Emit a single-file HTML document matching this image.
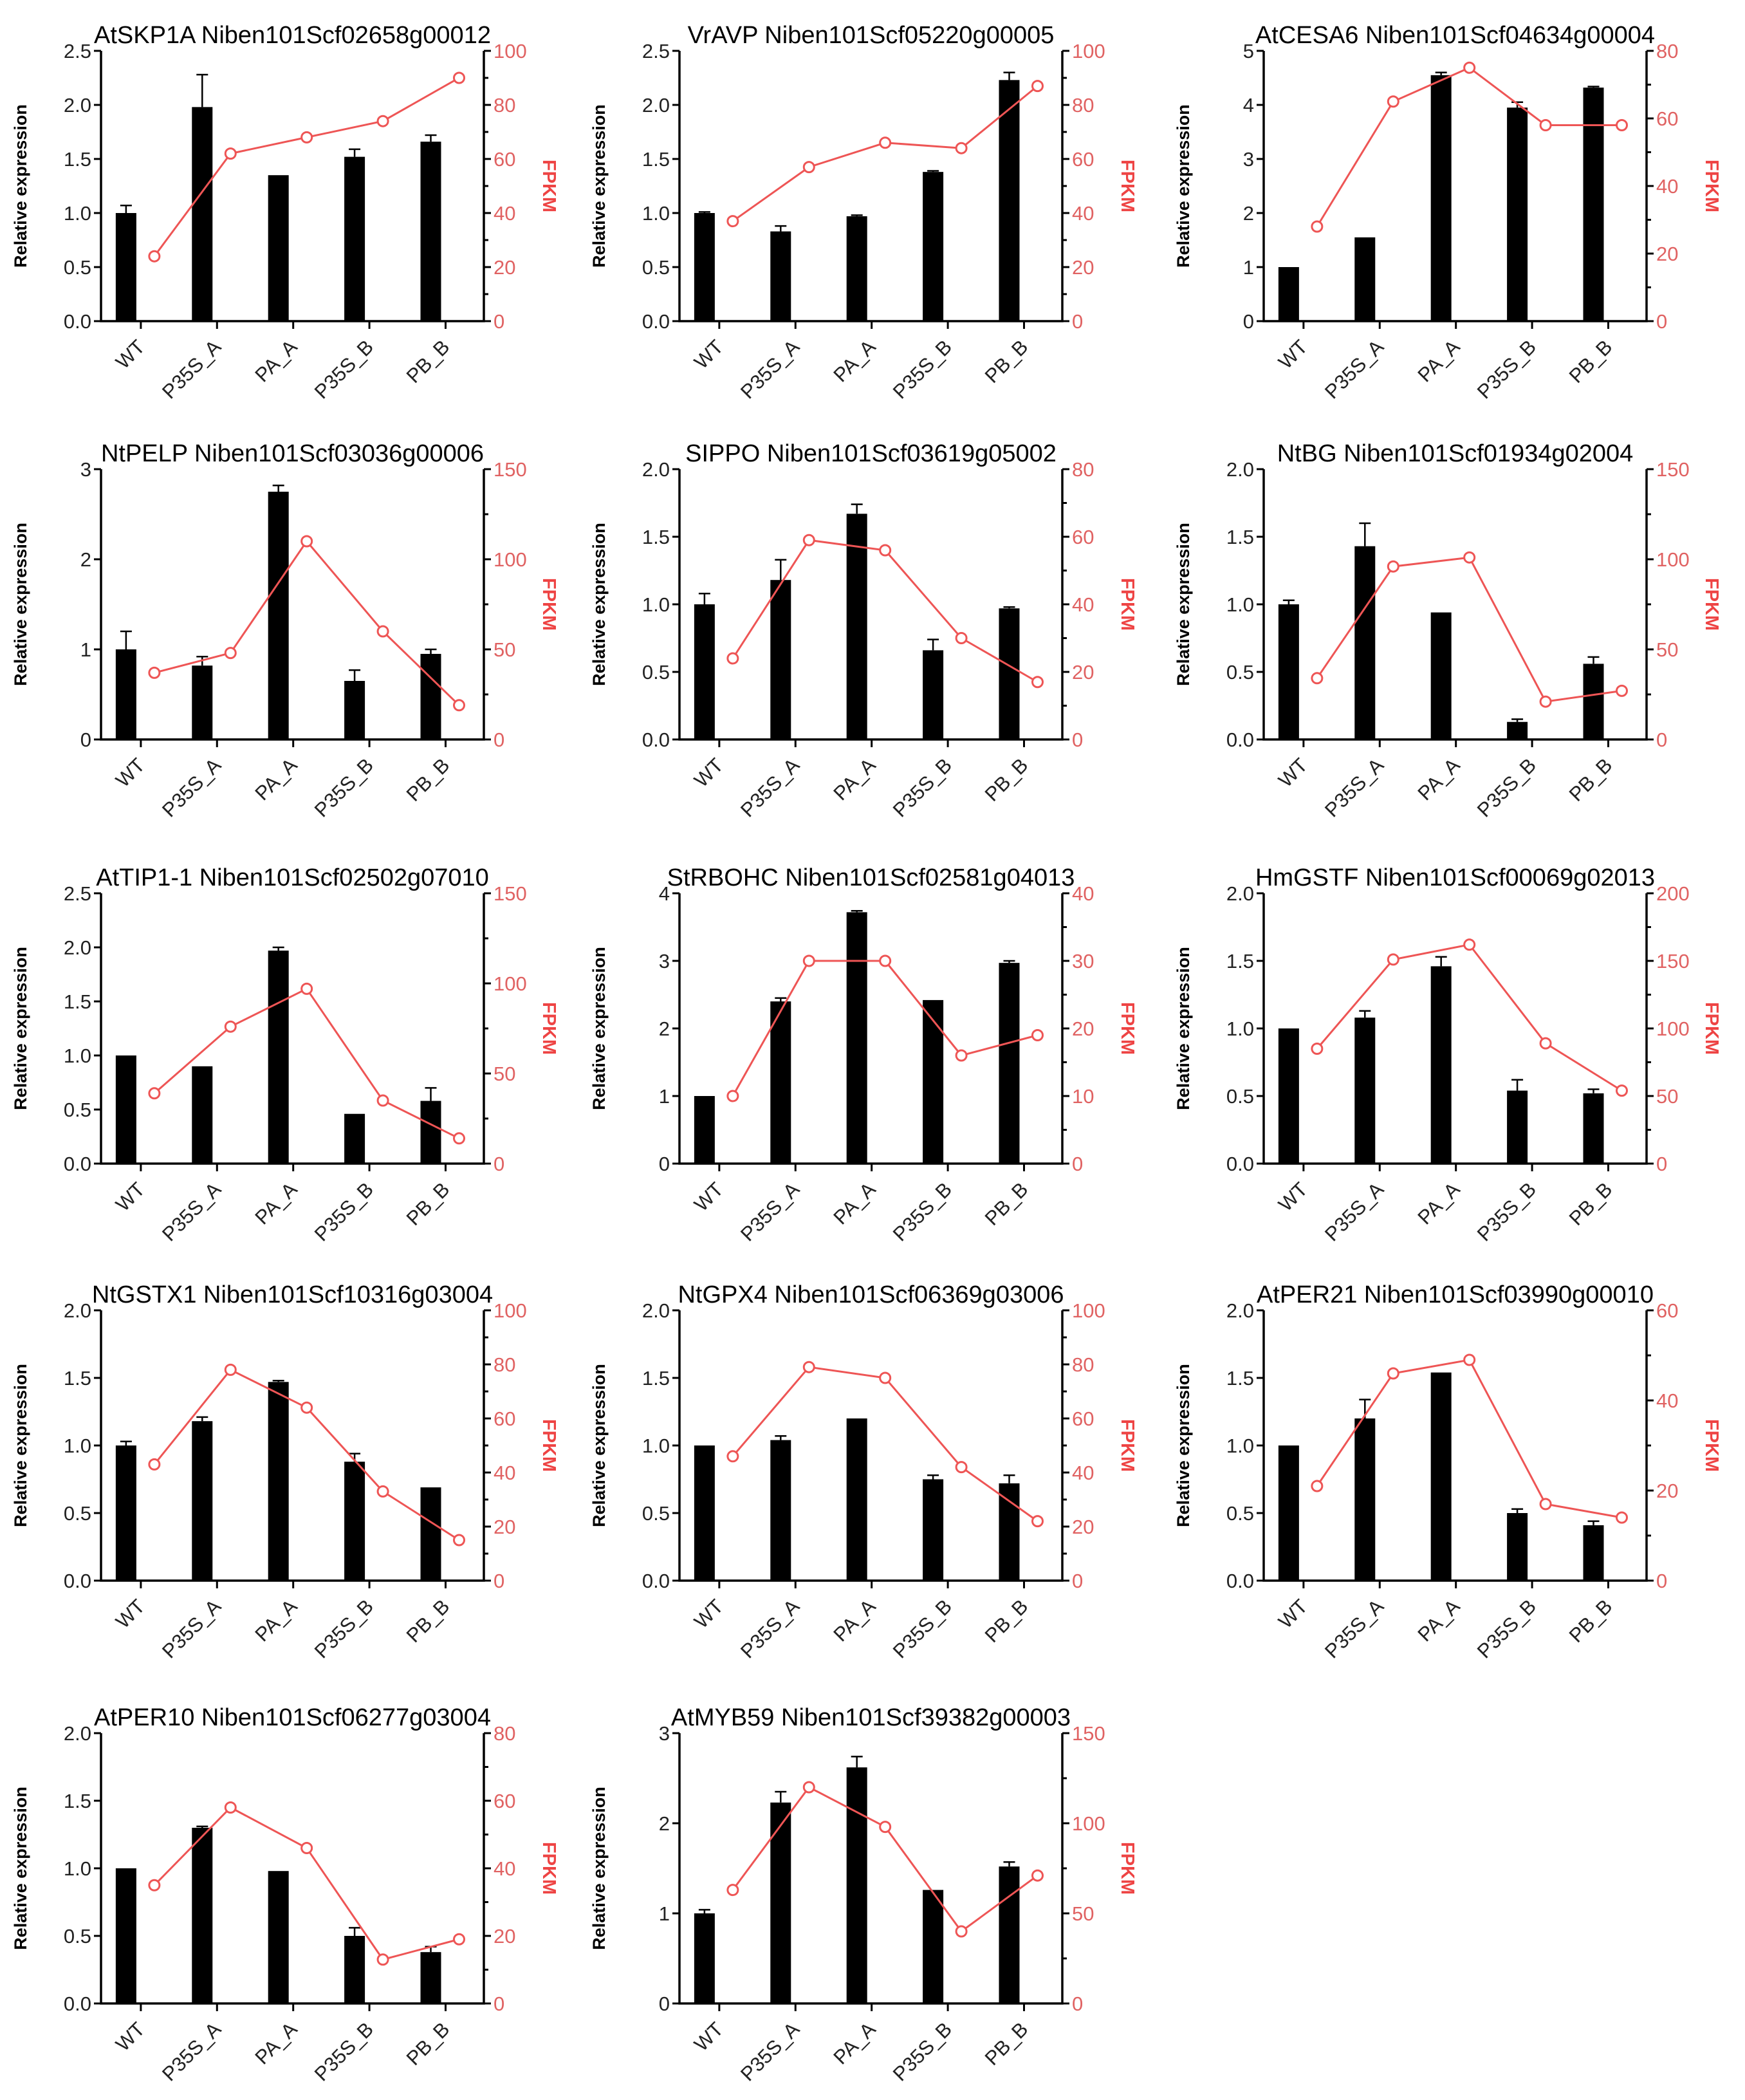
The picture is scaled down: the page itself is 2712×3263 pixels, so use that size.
<!DOCTYPE html>
<html><head><meta charset="utf-8"><style>
html,body{margin:0;padding:0;background:#fff}
svg{display:block}
text{font-family:"Liberation Sans",Arial,sans-serif}
</style></head><body>
<svg id="fig" width="2712" height="3263" viewBox="0 0 2712 3263" xmlns="http://www.w3.org/2000/svg"></svg>
<script>
const categories = ["WT","P35S_A","PA_A","P35S_B","PB_B"];
const titles = ["AtSKP1A Niben101Scf02658g00012","VrAVP Niben101Scf05220g00005","AtCESA6 Niben101Scf04634g00004",
"NtPELP Niben101Scf03036g00006","SIPPO Niben101Scf03619g05002","NtBG Niben101Scf01934g02004",
"AtTIP1-1 Niben101Scf02502g07010","StRBOHC Niben101Scf02581g04013","HmGSTF Niben101Scf00069g02013",
"NtGSTX1 Niben101Scf10316g03004","NtGPX4 Niben101Scf06369g03006","AtPER21 Niben101Scf03990g00010",
"AtPER10 Niben101Scf06277g03004","AtMYB59 Niben101Scf39382g00003"];
const leftMax = [2.5,2.5,5,3,2,2,2.5,4,2,2,2,2,2,3];
const leftStep = [0.5,0.5,1,1,0.5,0.5,0.5,1,0.5,0.5,0.5,0.5,0.5,1];
const rightMax = [100,100,80,150,80,150,150,40,200,100,100,60,80,150];
const rightStep = [20,20,20,50,20,50,50,10,50,20,20,20,20,50];
const barValues = [
[1.0,1.98,1.35,1.52,1.66],[1.0,0.83,0.97,1.38,2.23],[1.0,1.55,4.55,3.95,4.32],
[1.0,0.82,2.75,0.65,0.95],[1.0,1.18,1.67,0.66,0.97],[1.0,1.43,0.94,0.13,0.56],
[1.0,0.9,1.97,0.46,0.58],[1.0,2.4,3.72,2.42,2.97],[1.0,1.08,1.46,0.54,0.52],
[1.0,1.18,1.47,0.88,0.69],[1.0,1.04,1.2,0.75,0.72],[1.0,1.2,1.54,0.5,0.41],
[1.0,1.3,0.98,0.5,0.38],[1.0,2.23,2.62,1.26,1.52]];
const errValues = [
[0.07,0.3,0,0.07,0.06],[0.01,0.05,0.01,0.01,0.07],[0,0,0.05,0.1,0.02],
[0.2,0.1,0.07,0.12,0.05],[0.08,0.15,0.07,0.08,0.01],[0.03,0.17,0,0.02,0.05],
[0,0,0.03,0,0.12],[0,0.05,0.02,0,0.03],[0,0.05,0.07,0.08,0.03],
[0.03,0.03,0.01,0.06,0],[0,0.03,0,0.03,0.06],[0,0.14,0,0.03,0.03],
[0,0.01,0,0.06,0.04],[0.04,0.12,0.12,0,0.05]];
const fpkmValues = [
[24,62,68,74,90],[37,57,66,64,87],[28,65,75,58,58],
[37,48,110,60,19],[24,59,56,30,17],[34,96,101,21,27],
[39,76,97,35,14],[10,30,30,16,19],[85,151,162,89,54],
[43,78,64,33,15],[46,79,75,42,22],[21,46,49,17,14],
[35,58,46,13,19],[63,120,98,40,71]];

const colX = [157,1056,1964];
const rowBottom = [499,1149,1808,2456,3113];
const PW = 595, PH = 420;
const NS = "http://www.w3.org/2000/svg";
const svg = document.getElementById("fig");
function mk(tag, attrs, parent){const e=document.createElementNS(NS,tag);for(const k in attrs)e.setAttribute(k,attrs[k]);(parent||svg).appendChild(e);return e;}
function fmt(v,step){return step<1? v.toFixed(1): String(Math.round(v));}

titles.forEach((title,i)=>{
  const L = colX[i%3], B = rowBottom[Math.floor(i/3)], T = B-PH, R = L+PW;
  const g = mk("g",{});
  
  
  const yL = v => B - v/leftMax[i]*PH;
  const yR = v => B - v/rightMax[i]*PH;
  const tickX = k => L + 0.104*PW + k*0.199*PW;
  const t = mk("text",{x:L+PW/2,y:T-12,"text-anchor":"middle","font-size":38,fill:"#000"},g);
  t.textContent = title;
  
  
  barValues[i].forEach((v,k)=>{
    const cx = tickX(k)-23;
    const r = mk("rect",{x:cx-16,y:yL(v),width:32,height:B-yL(v),fill:"#000"},g);
    
    
    const e = errValues[i][k];
    if(e>0){
      const ey = yL(v+e);
      const l = mk("path",{d:`M${cx} ${yL(v)}V${ey}M${cx-9} ${ey}H${cx+9}`,stroke:"#000","stroke-width":2.5,fill:"none"},g);
      
      
    }
  });
  const pts = fpkmValues[i].map((v,k)=>[tickX(k)+21,yR(v)]);
  const pl = mk("polyline",{points:pts.map(p=>p.join(",")).join(" "),fill:"none",stroke:"#ee5555","stroke-width":3},g);
  
  
  pts.forEach(p=>{
    const c = mk("circle",{cx:p[0],cy:p[1],r:8,fill:"#fff",stroke:"#ee5555","stroke-width":3},g);
    
    
  });
  const ax = mk("path",{d:`M${L} ${T}V${B}H${R}V${T}`,fill:"none",stroke:"#000","stroke-width":3.5},g);
  
  
  for(let v=0; v<=leftMax[i]+1e-9; v+=leftStep[i]){
    const y=yL(v);
    mk("line",{x1:L-11,x2:L,y1:y,y2:y,stroke:"#000","stroke-width":3},g);
    const tl = mk("text",{x:L-15,y:y+11,"text-anchor":"end","font-size":31,fill:"#222"},g);
    tl.textContent = fmt(v,leftStep[i]);
    
    
  }
  for(let v=0; v<=rightMax[i]+1e-9; v+=rightStep[i]/2){
    const y=yR(v), major = Math.abs(v/rightStep[i]-Math.round(v/rightStep[i]))<1e-6;
    mk("line",{x1:R,x2:R+(major?11:7),y1:y,y2:y,stroke:"#000","stroke-width":3},g);
    if(major){
      const tr = mk("text",{x:R+15,y:y+11,"font-size":31,fill:"#e06262"},g);
      tr.textContent = String(Math.round(v));
      
      
    }
  }
  categories.forEach((c,k)=>{
    const x=tickX(k);
    mk("line",{x1:x,x2:x,y1:B,y2:B+12,stroke:"#000","stroke-width":3},g);
    const xl = mk("text",{x:x+8,y:B+42,"text-anchor":"end","font-size":31,fill:"#222",transform:`rotate(-45 ${x+8} ${B+42})`},g);
    xl.textContent = c;
    
    
  });
  const yt = mk("text",{x:L-116,y:B-PH/2,"text-anchor":"middle","font-size":27,"font-weight":"bold",fill:"#000",transform:`rotate(-90 ${L-116} ${B-PH/2})`},g);
  yt.textContent = "Relative expression";
  
  
  const ft = mk("text",{x:R+92,y:B-PH/2,"text-anchor":"middle","font-size":29,"font-weight":"bold",fill:"#ee4444",transform:`rotate(90 ${R+92} ${B-PH/2})`},g);
  ft.textContent = "FPKM";
  
  
});
</script>
</body></html>
